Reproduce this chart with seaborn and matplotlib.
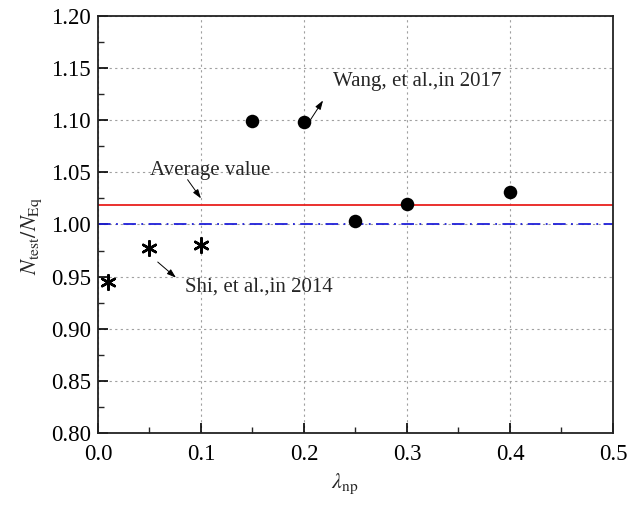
import matplotlib
matplotlib.use("Agg")
import matplotlib.pyplot as plt
from matplotlib.ticker import MultipleLocator
import seaborn as sns
import pandas as pd

# Shi et al. (2014) specimens
shi_lambda = [0.01, 0.05, 0.10]
shi_ratio = [0.945, 0.977, 0.980]

# Wang et al. (2017) specimens
wang_lambda = [0.15, 0.20, 0.25, 0.30, 0.40]
wang_ratio = [1.099, 1.098, 1.003, 1.020, 1.031]

average_ratio = 1.019
reference_ratio = 1.00

sns.set_theme(style="white")
plt.rcParams["font.family"] = ["Liberation Serif", "DejaVu Serif"]
plt.rcParams["mathtext.fontset"] = "stix"

df = pd.DataFrame({
    "lambda": shi_lambda + wang_lambda,
    "ratio": shi_ratio + wang_ratio,
    "source": ["Shi"] * len(shi_lambda) + ["Wang"] * len(wang_lambda),
})

fig = plt.figure(figsize=(6.38, 5.07), dpi=100)
ax = fig.add_axes([0.1536, 0.146, 0.8072, 0.8224])

ax.axhline(average_ratio, color="#e8201e", lw=1.3, zorder=2)
ax.axhline(reference_ratio, color="#1f1fd8", lw=1.3, ls=(0, (7, 3, 1, 3)), zorder=2)

sns.scatterplot(data=df[df.source == "Wang"], x="lambda", y="ratio", ax=ax,
                marker="o", s=95, color="black", edgecolor="black", linewidth=0,
                legend=False, zorder=3)
sns.scatterplot(data=df[df.source == "Shi"], x="lambda", y="ratio", ax=ax,
                marker=(6, 2, 0), s=110, color="black", edgecolor="black",
                linewidth=1.8, legend=False, zorder=3)

ax.set_xlim(0.0, 0.5)
ax.set_ylim(0.80, 1.20)
ax.xaxis.set_major_locator(MultipleLocator(0.1))
ax.xaxis.set_minor_locator(MultipleLocator(0.05))
ax.yaxis.set_major_locator(MultipleLocator(0.05))
ax.yaxis.set_minor_locator(MultipleLocator(0.025))
ax.set_xticklabels([f"{v:.1f}" for v in ax.get_xticks()])
ax.set_yticklabels([f"{v:.2f}" for v in ax.get_yticks()])

ax.tick_params(axis="both", which="major", direction="in", length=7, width=1.2,
               labelsize=16.5, colors="black", pad=5, bottom=True, left=True,
               top=False, right=False)
ax.tick_params(axis="x", which="major", pad=8)
ax.tick_params(axis="both", which="minor", direction="in", length=4, width=1.0,
               bottom=True, left=True, top=False, right=False)
for side in ax.spines.values():
    side.set_color("#222222")
    side.set_linewidth(1.3)

ax.grid(True, which="major", color="#a0a0a0", ls=(0, (2, 3)), lw=0.8)
ax.set_axisbelow(True)

ax.set_xlabel(r"$\lambda_{\rm np}$", fontsize=16)
ax.set_ylabel(r"$N_{\rm test}/N_{\rm Eq}$", fontsize=16)
ax.xaxis.set_label_coords(0.48, -0.093)
ax.yaxis.set_label_coords(-0.104, 0.472)

arrow = dict(arrowstyle="-|>,head_length=0.45,head_width=0.15", color="black",
             lw=0.7, shrinkA=0, shrinkB=0)

# annotation texts
ax.text(0.109, 1.052, "Average value", fontsize=15, ha="center", va="center")
ax.text(0.228, 1.137, "Wang, et al.,in 2017", fontsize=15, ha="left", va="center")
ax.text(0.0845, 0.940, "Shi, et al.,in 2014", fontsize=15, ha="left", va="center")

# leader arrows
ax.annotate("", xy=(0.100, 1.025), xytext=(0.087, 1.043), arrowprops=arrow)
ax.annotate("", xy=(0.2185, 1.119), xytext=(0.206, 1.100), arrowprops=arrow)
ax.annotate("", xy=(0.0757, 0.949), xytext=(0.058, 0.964), arrowprops=arrow)

fig.savefig("out.png", dpi=100, facecolor="white")
